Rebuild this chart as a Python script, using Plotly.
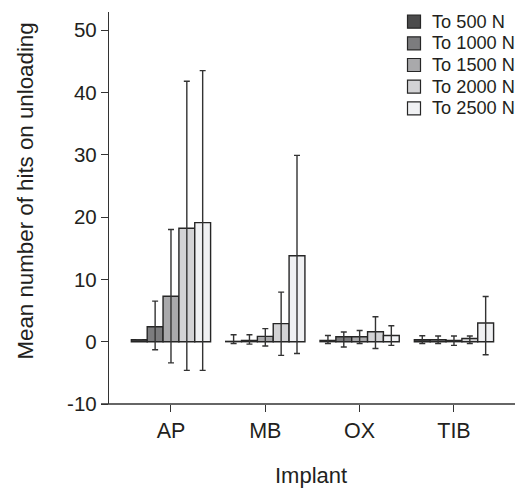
import plotly.graph_objects as go

implants = ["AP", "MB", "OX", "TIB"]
series_names = ["To 500 N", "To 1000 N", "To 1500 N", "To 2000 N", "To 2500 N"]

mean_500 = [0.3, 0.05, 0.2, 0.3]
mean_1000 = [2.4, 0.2, 0.8, 0.3]
mean_1500 = [7.3, 0.85, 0.8, 0.2]
mean_2000 = [18.2, 2.9, 1.6, 0.5]
mean_2500 = [19.1, 13.8, 1.0, 3.0]

upper_500 = [0.3, 1.1, 1.0, 0.95]
upper_1000 = [6.5, 1.1, 1.55, 0.9]
upper_1500 = [18.0, 2.1, 1.8, 0.9]
upper_2000 = [41.8, 7.95, 4.0, 0.9]
upper_2500 = [43.5, 29.9, 2.55, 7.25]

lower_500 = [0.3, -0.3, -0.3, -0.3]
lower_1000 = [-1.3, -0.4, -0.85, -0.3]
lower_1500 = [-3.4, -0.7, -0.3, -0.6]
lower_2000 = [-4.6, -2.2, -1.1, -0.3]
lower_2500 = [-4.6, -1.9, -0.6, -2.1]

y_ticks = [-10, 0, 10, 20, 30, 40, 50]
y_tick_labels = ["-10", "0", "10", "20", "30", "40", "50"]
colors = ["#4b4b4c", "#7c7c7e", "#a9a9ab", "#d3d3d5", "#f0f1f3"]

means = [mean_500, mean_1000, mean_1500, mean_2000, mean_2500]
uppers = [upper_500, upper_1000, upper_1500, upper_2000, upper_2500]
lowers = [lower_500, lower_1000, lower_1500, lower_2000, lower_2500]

OFF = 8  # page body margin
W, H = 523 - OFF, 489 - OFF
# plot area in page pixels: x 109..515, y 12..404
L, R, T = 109 - OFF, 8, 12 - OFF
B = (OFF + H) - 404
PW, PH = W - L - R, H - T - B
FONT = "Liberation Sans, Arial, sans-serif"
TXT = "#231f20"


def px2x(px):
    return (px - OFF - L) / PW


def px2y(py):
    return (OFF + T + PH - py) / PH


fig = go.Figure()
for name, m, u, lo, c in zip(series_names, means, uppers, lowers, colors):
    fig.add_trace(go.Bar(
        x=implants, y=m, name=name,
        marker=dict(color=c, line=dict(color="#262626", width=1.4)),
        error_y=dict(type="data", symmetric=False,
                     array=[a - b for a, b in zip(u, m)],
                     arrayminus=[b - a for a, b in zip(lo, m)],
                     color="#333333", thickness=1.4, width=3),
        showlegend=False,
    ))

# manual legend
for i, (name, c) in enumerate(zip(series_names, colors)):
    cy = 21.7 + i * 21.65
    fig.add_shape(type="rect", xref="paper", yref="paper",
                  x0=px2x(407.5), x1=px2x(420.5), y0=px2y(cy + 6.5), y1=px2y(cy - 6.5),
                  fillcolor=c, line=dict(color="#262626", width=1.2))
    fig.add_annotation(text=name, xref="paper", yref="paper",
                       x=px2x(429.5), y=px2y(cy), xanchor="left", yanchor="middle",
                       showarrow=False, font=dict(family=FONT, size=18.2, color=TXT))

# x-axis baseline extending slightly left of the y axis
fig.add_shape(type="line", xref="paper", yref="paper",
              x0=px2x(101), x1=1, y0=0, y1=0, line=dict(color="#333333", width=1.3))

fig.add_annotation(text="Mean number of hits on unloading", xref="paper", yref="paper",
                   x=px2x(25), y=px2y(191.5), textangle=-90, showarrow=False,
                   xanchor="center", yanchor="middle",
                   font=dict(family=FONT, size=22.3, color=TXT))
fig.add_annotation(text="Implant", xref="paper", yref="paper",
                   x=px2x(310.5), y=px2y(475), showarrow=False,
                   xanchor="center", yanchor="middle",
                   font=dict(family=FONT, size=22, color=TXT))

fig.update_layout(
    width=W, height=H,
    margin=dict(l=L, r=R, t=T, b=B, pad=0),
    paper_bgcolor="white", plot_bgcolor="white",
    barmode="group", bargap=0.16, bargroupgap=0,
    font=dict(family=FONT, size=21, color=TXT),
    xaxis=dict(type="category", range=[-0.657, 3.647], showline=False,
               ticks="outside", ticklen=7, tickwidth=1.2, tickcolor="#333333",
               showgrid=False, zeroline=False, tickfont=dict(size=21.5)),
    yaxis=dict(range=[-10, 52.9], tickvals=y_ticks, ticktext=y_tick_labels,
               showline=True, linecolor="#333333",
               linewidth=1.3, ticks="outside", ticklen=7, tickwidth=1.2,
               tickcolor="#333333", showgrid=False, zeroline=False,
               tickfont=dict(size=20.5)),
)

fig.write_html("out.html")
